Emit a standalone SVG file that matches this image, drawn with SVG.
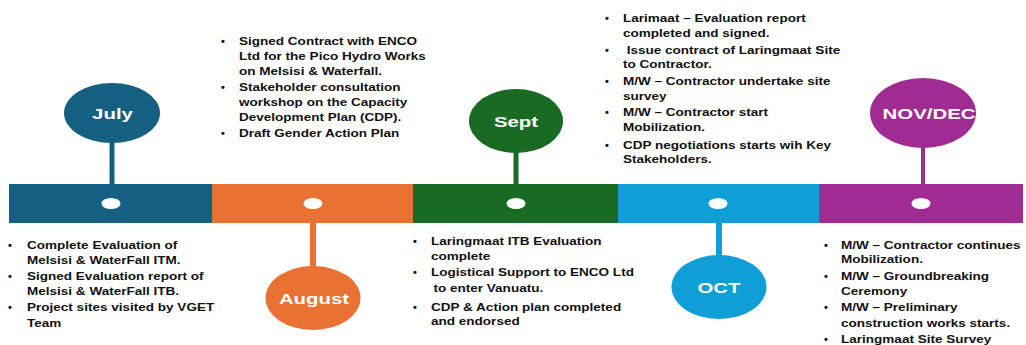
<svg xmlns="http://www.w3.org/2000/svg" width="1026" height="345" viewBox="0 0 1026 345">
<style>
.t{font-family:"Liberation Sans",Arial,sans-serif;font-weight:bold;font-size:11px;fill:#111}
.m{font-family:"Liberation Sans",Arial,sans-serif;font-weight:bold;font-size:15px;fill:#fff;text-anchor:middle}
.dot{fill:#fff}
</style>
<rect width="1026" height="345" fill="#fff"/>
<g id="bar">
<rect x="9" y="184" width="203" height="39" fill="#156082"/>
<rect x="212" y="184" width="201" height="39" fill="#E97132"/>
<rect x="413" y="184" width="205" height="39" fill="#196B24"/>
<rect x="618" y="184" width="201" height="39" fill="#0F9ED5"/>
<rect x="819" y="184" width="204" height="39" fill="#A02B93"/>
<ellipse class="dot" cx="111" cy="203.5" rx="9.5" ry="5.5"/>
<ellipse class="dot" cx="313" cy="203.5" rx="9.5" ry="5.5"/>
<ellipse class="dot" cx="516" cy="203.5" rx="9.5" ry="5.5"/>
<ellipse class="dot" cx="718" cy="203.5" rx="9.5" ry="5.5"/>
<ellipse class="dot" cx="921" cy="203.5" rx="9.5" ry="5.5"/>
</g>
<g id="connectors">
<rect x="109.5" y="140" width="5" height="45" fill="#156082"/>
<rect x="310" y="222" width="6" height="46" fill="#E97132"/>
<rect x="513.5" y="150" width="5" height="35" fill="#196B24"/>
<rect x="716" y="222" width="6" height="36" fill="#0F9ED5"/>
<rect x="921" y="145" width="4" height="40" fill="#A02B93"/>
</g>
<g id="july">
<ellipse cx="112" cy="113" rx="48" ry="30" fill="#156082"/>
<text class="m" transform="translate(112.5,118.5) scale(1.36,1)">July</text>
</g>
<g id="august">
<ellipse cx="313" cy="298" rx="47.5" ry="32" fill="#E97132"/>
<text class="m" transform="translate(314,303.5) scale(1.36,1)">August</text>
</g>
<g id="sept">
<ellipse cx="516" cy="121" rx="47" ry="32" fill="#196B24"/>
<text class="m" transform="translate(516,126.5) scale(1.36,1)">Sept</text>
</g>
<g id="oct">
<ellipse cx="719" cy="287" rx="47.5" ry="32" fill="#0F9ED5"/>
<text class="m" transform="translate(719,292.5) scale(1.36,1)">OCT</text>
</g>
<g id="novdec">
<ellipse cx="923" cy="113" rx="53" ry="35" fill="#A02B93"/>
<text class="m" transform="translate(929,118.5) scale(1.36,1)">NOV/DEC</text>
</g>
<g id="july-items" class="t">
<text x="8" y="249">•</text><text x="8" y="280">•</text><text x="8" y="311">•</text>
<g transform="matrix(1.23,0,0,1,-6.21,0)">
<text x="27" y="249">Complete Evaluation of</text>
<text x="27" y="264">Melsisi &amp; WaterFall ITM.</text>
<text x="27" y="280">Signed Evaluation report of</text>
<text x="27" y="295">Melsisi &amp; WaterFall ITB.</text>
<text x="27" y="311">Project sites visited by VGET</text>
<text x="27" y="327">Team</text>
</g>
</g>
<g id="august-items" class="t">
<text x="221" y="45">•</text><text x="221" y="91">•</text><text x="221" y="137">•</text>
<g transform="matrix(1.23,0,0,1,-54.97,0)">
<text x="239" y="45">Signed Contract with ENCO</text>
<text x="239" y="60">Ltd for the Pico Hydro Works</text>
<text x="239" y="75">on Melsisi &amp; Waterfall.</text>
<text x="239" y="91">Stakeholder consultation</text>
<text x="239" y="106">workshop on the Capacity</text>
<text x="239" y="121">Development Plan (CDP).</text>
<text x="239" y="137">Draft Gender Action Plan</text>
</g>
</g>
<g id="sept-items" class="t">
<text x="413" y="245">•</text><text x="413" y="276">•</text><text x="413" y="311">•</text>
<g transform="matrix(1.23,0,0,1,-99.13,0)">
<text x="431" y="245">Laringmaat ITB Evaluation</text>
<text x="431" y="260">complete</text>
<text x="431" y="276">Logistical Support to ENCO Ltd</text>
<text x="433" y="292">to enter Vanuatu.</text>
<text x="431" y="311">CDP &amp; Action plan completed</text>
<text x="431" y="325">and endorsed</text>
</g>
</g>
<g id="oct-items" class="t">
<text x="605" y="22">•</text><text x="605" y="54">•</text><text x="605" y="85">•</text><text x="605" y="116">•</text><text x="605" y="149">•</text>
<g transform="matrix(1.23,0,0,1,-143.29,0)">
<text x="623" y="22">Larimaat – Evaluation report</text>
<text x="623" y="37">completed and signed.</text>
<text x="626" y="54">Issue contract of Laringmaat Site</text>
<text x="623" y="68">to Contractor.</text>
<text x="623" y="85">M/W – Contractor undertake site</text>
<text x="623" y="100">survey</text>
<text x="623" y="116">M/W – Contractor start</text>
<text x="623" y="131">Mobilization.</text>
<text x="623" y="149">CDP negotiations starts wih Key</text>
<text x="623" y="163">Stakeholders.</text>
</g>
</g>
<g id="novdec-items" class="t">
<text x="824" y="249">•</text><text x="824" y="280">•</text><text x="824" y="311">•</text><text x="824" y="343">•</text>
<g transform="matrix(1.23,0,0,1,-193.43,0)">
<text x="841" y="249">M/W – Contractor continues</text>
<text x="841" y="263">Mobilization.</text>
<text x="841" y="280">M/W – Groundbreaking</text>
<text x="841" y="295">Ceremony</text>
<text x="841" y="311">M/W – Preliminary</text>
<text x="841" y="327">construction works starts.</text>
<text x="841" y="343">Laringmaat Site Survey</text>
</g>
</g>
</svg>
